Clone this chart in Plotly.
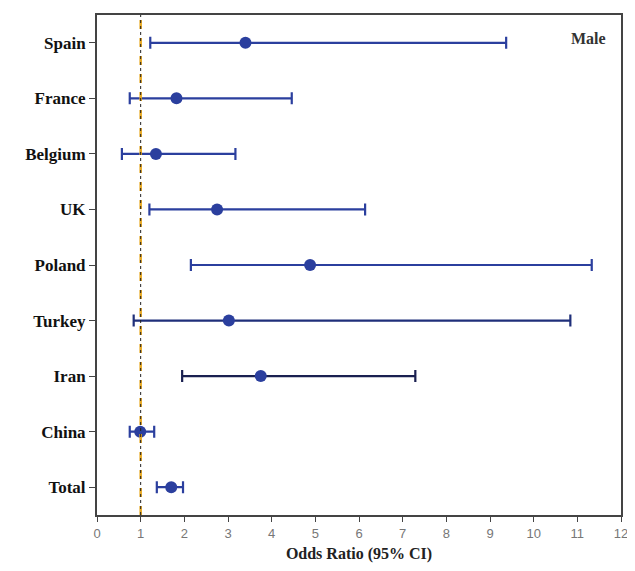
import plotly.graph_objects as go

countries = ["Spain", "France", "Belgium", "UK", "Poland", "Turkey", "Iran", "China", "Total"]
odds_ratio = [3.4, 1.82, 1.35, 2.75, 4.88, 3.02, 3.75, 0.99, 1.7]
ci_lower = [1.22, 0.75, 0.57, 1.2, 2.15, 0.84, 1.95, 0.75, 1.37]
ci_upper = [9.37, 4.46, 3.17, 6.14, 11.33, 10.84, 7.29, 1.31, 1.97]
bar_colors = ["#2b3f9e", "#2b3f9e", "#2b3f9e", "#2b3f9e", "#2b3f9e", "#1f2f7a", "#1a2050", "#2b3f9e", "#2b3f9e"]
x_ticks = list(range(0, 13))
group_label = "Male"

fig = go.Figure()
for i, c in enumerate(countries):
    fig.add_trace(go.Scatter(
        x=[odds_ratio[i]], y=[c], mode="markers",
        marker=dict(color="#2b3f9e", size=12),
        error_x=dict(type="data", symmetric=False,
                     array=[ci_upper[i] - odds_ratio[i]],
                     arrayminus=[odds_ratio[i] - ci_lower[i]],
                     color=bar_colors[i], thickness=2.2, width=6),
        showlegend=False,
    ))

fig.add_shape(type="line", xref="x", yref="paper", x0=1, x1=1, y0=0, y1=1,
              line=dict(color="#e8a820", width=2.5, dash="dash"))
fig.add_shape(type="line", xref="x", yref="paper", x0=1, x1=1, y0=0, y1=1,
              line=dict(color="#222222", width=1, dash="dot"))

fig.add_annotation(text="<b>" + group_label + "</b>", xref="paper", yref="paper",
                   x=0.975, y=0.975, xanchor="right", yanchor="top", showarrow=False,
                   font=dict(family="Liberation Serif", size=16, color="#333333"))

# page body has an 8px default margin, so the figure is sized to fit inside the window
fig.update_layout(
    width=627, height=555,
    margin=dict(l=89, r=14, t=7, b=48),
    plot_bgcolor="white", paper_bgcolor="white",
    font=dict(family="Liberation Serif", color="#222222"),
)
fig.update_xaxes(range=[0, 12], tickvals=x_ticks, ticktext=[str(t) for t in x_ticks],
                 automargin=False, ticklabeloverflow="allow",
                 showgrid=False, zeroline=False, showline=True, linecolor="#444444", linewidth=2,
                 mirror=True, ticks="outside", ticklen=5, tickcolor="#444444",
                 tickfont=dict(family="Liberation Sans", size=13, color="#777777"),
                 title=dict(text="<b>Odds Ratio (95% CI)</b>", standoff=8,
                            font=dict(family="Liberation Serif", size=16, color="#222222")))
fig.update_yaxes(categoryorder="array", categoryarray=countries, range=[8.5, -0.5],
                 automargin=False,
                 showgrid=False, zeroline=False, showline=True, linecolor="#444444", linewidth=2,
                 mirror=True, ticks="outside", ticklen=6, tickcolor="#444444",
                 tickfont=dict(family="Liberation Serif", size=17, color="#111111"))
fig.update_yaxes(tickvals=countries, ticktext=["<b>" + c + "</b>" for c in countries])

fig.write_html("out.html")
